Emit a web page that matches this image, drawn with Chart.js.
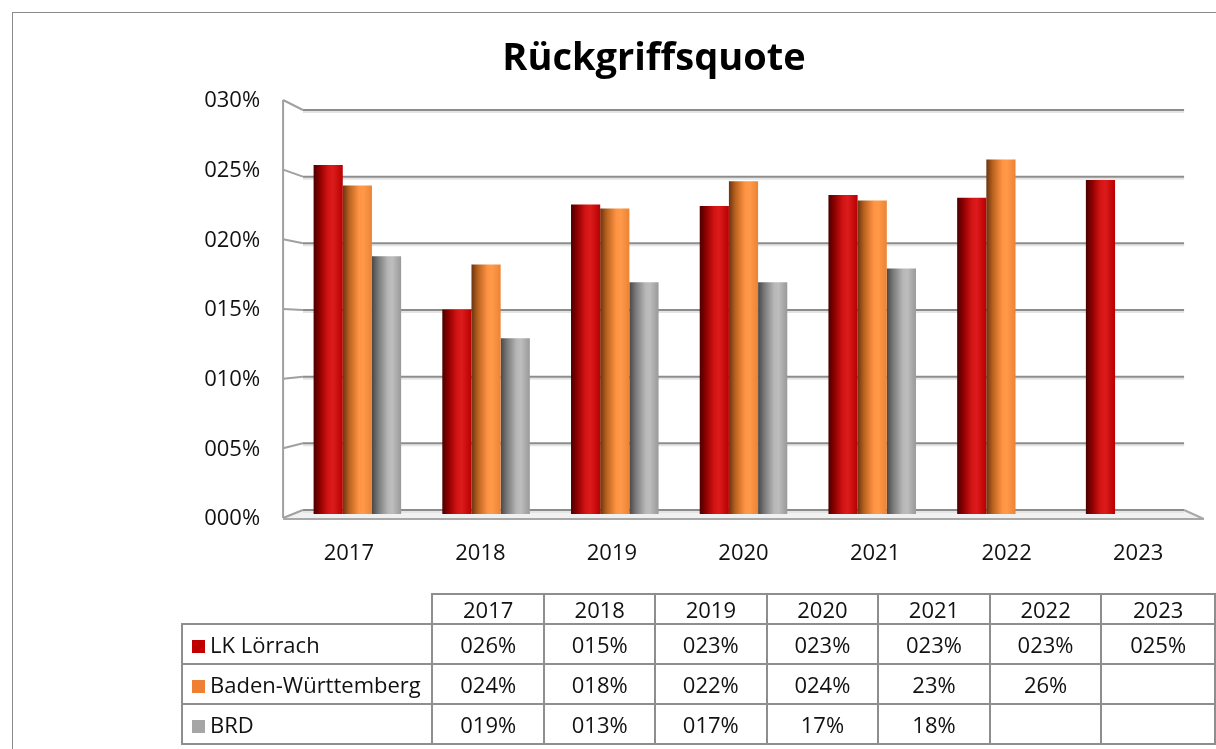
<!DOCTYPE html>
<html>
<head>
<meta charset="utf-8">
<script src="https://cdn.jsdelivr.net/npm/chart.js@4.4.7/dist/chart.umd.min.js"></script>
<style>
  html, body { margin: 0; padding: 0; background: #fff; overflow: hidden; }
  #frame { position: absolute; left: 12px; top: 12px; width: 1240px; height: 780px; border: 1px solid #8a8a8a; }
  #wrap { position: absolute; left: 0; top: 0; width: 1216px; height: 749px; }
  #title {
    position: absolute; left: 654px; top: 36px; transform: translateX(-50%);
    font-family: "Open Sans", sans-serif; font-weight: bold; font-size: 38px; line-height: 38px;
    color: #000; white-space: nowrap;
  }
  #dataTable {
    position: absolute; left: 181px; top: 593px;
    border-collapse: collapse; table-layout: fixed;
    font-family: "Open Sans", sans-serif; font-size: 22px; line-height: 24px; color: #111;
  }
  #dataTable td { border: 2px solid #8e8e8e; text-align: center; padding: 0; white-space: nowrap; }
  #dataTable tr.head td { height: 28px; }
  #dataTable tr.body td { height: 38px; }
  #dataTable td.corner { border-top: none; border-left: none; }
  #dataTable td.name { text-align: left; padding-left: 9px; }
  .swatch { display: inline-block; width: 13px; height: 13px; margin-right: 5px; vertical-align: 0; }
</style>
</head>
<body>
<div id="frame"></div>
<div id="wrap"><canvas id="chart"></canvas></div>
<div id="title">Rückgriffsquote</div>
<table id="dataTable"></table>
<script>
  var years = ["2017", "2018", "2019", "2020", "2021", "2022", "2023"];
  var loerrach = [0.256, 0.150, 0.227, 0.226, 0.234, 0.232, 0.245];
  var badenWuerttemberg = [0.241, 0.183, 0.224, 0.244, 0.230, 0.260, null];
  var brd = [0.189, 0.129, 0.170, 0.170, 0.180, null, null];

  var yTicks = [0, 0.05, 0.10, 0.15, 0.20, 0.25, 0.30];
  var yTickLabels = ["000%", "005%", "010%", "015%", "020%", "025%", "030%"];

  var tableLoerrach = ["026%", "015%", "023%", "023%", "023%", "023%", "025%"];
  var tableBW = ["024%", "018%", "022%", "024%", "23%", "26%", ""];
  var tableBRD = ["019%", "013%", "017%", "17%", "18%", "", ""];

  var CAT_PCT = 0.68;
  var DEPTH = 0.022;
  var FONT = "'Open Sans', sans-serif";

  var redStops = [[0, "#4a0000"], [0.22, "#900000"], [0.5, "#d41414"], [0.66, "#dc1c1c"], [1, "#b80000"]];
  var orangeStops = [[0, "#6a3410"], [0.22, "#b9621f"], [0.55, "#ff9343"], [0.7, "#ff9a4a"], [1, "#ec8334"]];
  var grayStops = [[0, "#474747"], [0.22, "#7a7a7a"], [0.55, "#b7b7b7"], [0.7, "#bdbdbd"], [1, "#999999"]];

  // cylinder shading: horizontal gradient across each bar's own slot
  function cylinder(stops) {
    return function (ctx) {
      var chart = ctx.chart;
      var xs = chart.scales.x;
      if (ctx.type !== "data" || !xs || !chart.chartArea) return stops[2][1];
      var catW = xs.getPixelForValue(1) - xs.getPixelForValue(0);
      var groupW = catW * CAT_PCT;
      var barW = groupW / 3;
      var x0 = xs.getPixelForValue(ctx.dataIndex) - groupW / 2 + barW * ctx.datasetIndex;
      var g = chart.ctx.createLinearGradient(x0, 0, x0 + barW, 0);
      stops.forEach(function (s) { g.addColorStop(s[0], s[1]); });
      return g;
    };
  }

  // depth: -1 back wall, 0 bar plane, +1 front edge
  function project(chart, x, y, depth) {
    var a = chart.chartArea;
    var cx = (a.left + a.right) / 2;
    return {
      x: cx + (x - cx) * (1 + depth * DEPTH),
      y: a.bottom + (y - a.bottom) * (1 + depth * DEPTH) + depth * 4,
    };
  }

  function line(c, p, q, color, width) {
    c.strokeStyle = color;
    c.lineWidth = width;
    c.beginPath();
    c.moveTo(p.x, p.y);
    c.lineTo(q.x, q.y);
    c.stroke();
  }

  var wallPlugin = {
    id: "wall",
    beforeDatasetsDraw: function (chart) {
      var c = chart.ctx;
      var a = chart.chartArea;
      var ys = chart.scales.y;
      c.save();

      // floor
      var bl = project(chart, a.left, a.bottom, -1), br = project(chart, a.right, a.bottom, -1);
      var fl = project(chart, a.left, a.bottom, 1), fr = project(chart, a.right, a.bottom, 1);
      c.fillStyle = "#f1f1f1";
      c.beginPath();
      c.moveTo(bl.x, bl.y); c.lineTo(br.x, br.y); c.lineTo(fr.x, fr.y); c.lineTo(fl.x, fl.y);
      c.closePath();
      c.fill();

      yTicks.forEach(function (v) {
        var y = ys.getPixelForValue(v);
        var p = project(chart, a.left, y, -1), q = project(chart, a.right, y, -1);
        line(c, { x: p.x, y: p.y + 2 }, { x: q.x, y: q.y + 2 }, "#e4e4e4", 2);
        line(c, p, q, "#8c8c8c", 2);
        line(c, project(chart, a.left, y, 1), p, "#a0a0a0", 2);
      });

      var top = project(chart, a.left, ys.getPixelForValue(0.30), 1);
      line(c, top, fl, "#a0a0a0", 2);
      line(c, { x: fl.x, y: fl.y + 1 }, { x: fr.x, y: fr.y + 1 }, "#a8a8a8", 2);
      line(c, br, { x: fr.x, y: fr.y + 1 }, "#a8a8a8", 2);
      c.restore();
    },
    afterDraw: function (chart) {
      var c = chart.ctx;
      var a = chart.chartArea;
      var ys = chart.scales.y;
      var xs = chart.scales.x;
      c.save();
      c.fillStyle = "#111";
      c.font = "22px " + FONT;
      c.textAlign = "right";
      c.textBaseline = "middle";
      yTicks.forEach(function (v, i) {
        var p = project(chart, a.left, ys.getPixelForValue(v), 1);
        c.fillText(yTickLabels[i], p.x - 23, p.y + 1);
      });
      c.textAlign = "center";
      years.forEach(function (yr, i) {
        var p = project(chart, xs.getPixelForValue(i), a.bottom, 1);
        c.fillText(yr, p.x, p.y + 36);
      });
      c.restore();
    },
  };

  new Chart(document.getElementById("chart"), {
    type: "bar",
    data: {
      labels: years,
      datasets: [
        { label: "LK Lörrach", data: loerrach, backgroundColor: cylinder(redStops) },
        { label: "Baden-Württemberg", data: badenWuerttemberg, backgroundColor: cylinder(orangeStops) },
        { label: "BRD", data: brd, backgroundColor: cylinder(grayStops) },
      ],
    },
    options: {
      responsive: true,
      maintainAspectRatio: false,
      animation: false,
      datasets: { bar: { categoryPercentage: CAT_PCT, barPercentage: 1, borderWidth: 0 } },
      layout: { padding: { left: 293, right: 22, top: 105, bottom: 235 } },
      plugins: {
        legend: { display: false },
        tooltip: { enabled: false },
        title: { display: false },
      },
      scales: {
        x: { display: false },
        y: { display: false, min: 0, max: 0.30 },
      },
    },
    plugins: [wallPlugin],
  });

  function buildTable() {
    var rows = [
      { name: "LK Lörrach", color: "#c00000", cells: tableLoerrach },
      { name: "Baden-Württemberg", color: "#ee7f33", cells: tableBW },
      { name: "BRD", color: "#a6a6a6", cells: tableBRD },
    ];
    var html = '<colgroup><col style="width:250px">';
    var widths = [113, 111, 112, 112, 112, 112, 114];
    widths.forEach(function (w) { html += '<col style="width:' + w + 'px">'; });
    html += "</colgroup>";
    html += '<tr class="head"><td class="corner"></td>' +
      years.map(function (y) { return "<td>" + y + "</td>"; }).join("") + "</tr>";
    rows.forEach(function (r) {
      html += '<tr class="body"><td class="name"><span class="swatch" style="background:' + r.color + '"></span>' +
        r.name + "</td>" + r.cells.map(function (v) { return "<td>" + v + "</td>"; }).join("") + "</tr>";
    });
    document.getElementById("dataTable").innerHTML = html;
  }
  buildTable();
</script>
</body>
</html>
